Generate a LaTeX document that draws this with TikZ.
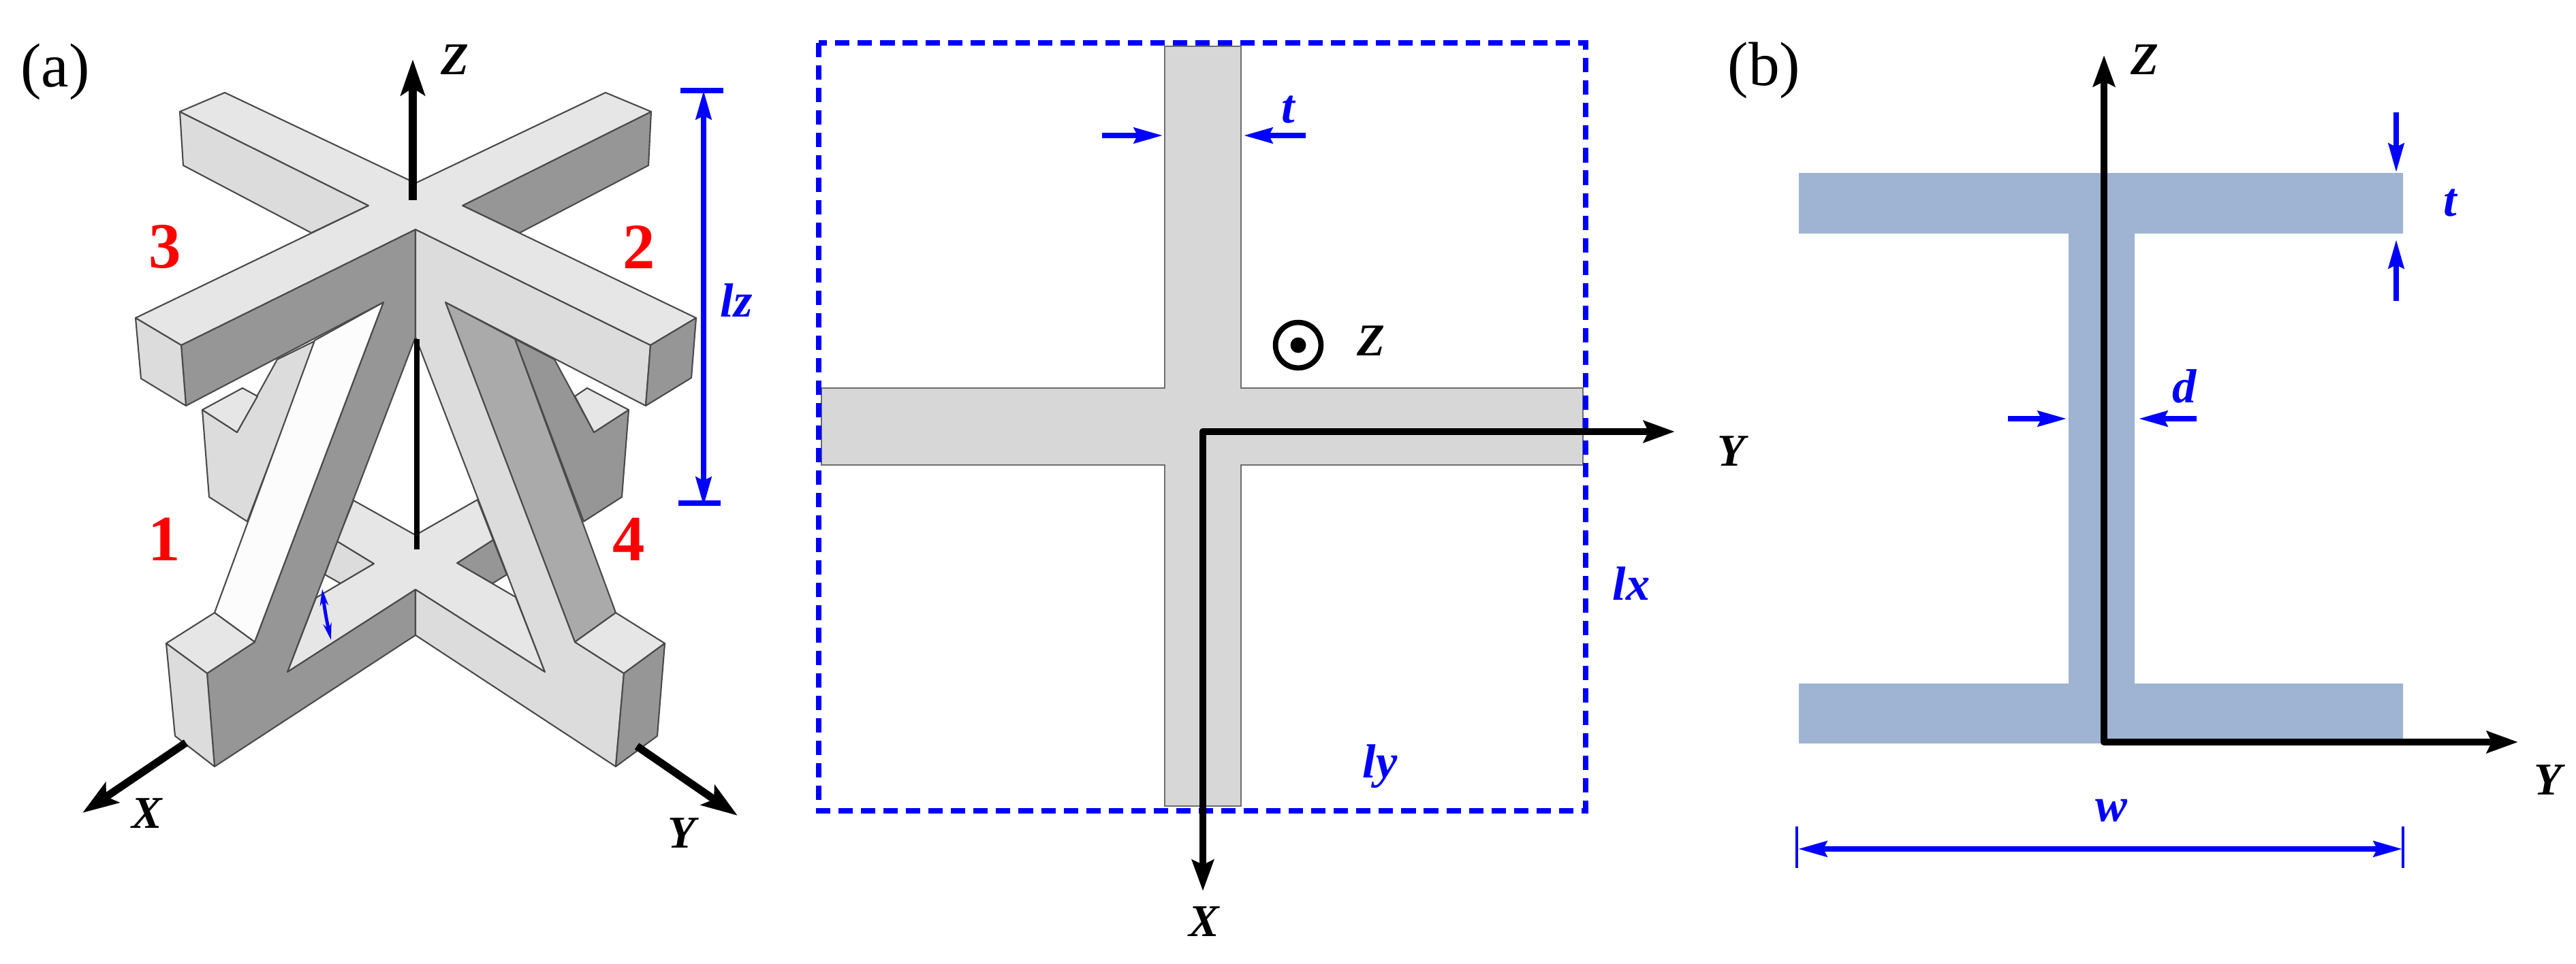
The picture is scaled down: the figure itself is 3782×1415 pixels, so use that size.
\documentclass[tikz,border=0pt]{standalone}
\usepackage{fontspec}
\setmainfont{Liberation Serif}
\usetikzlibrary{arrows.meta}
\definecolor{edgec}{HTML}{4A4A4A}
\definecolor{topc}{HTML}{E6E6E6}
\definecolor{lightc}{HTML}{DCDCDC}
\definecolor{darkc}{HTML}{969696}
\definecolor{midc}{HTML}{AAAAAA}
\definecolor{whitec}{HTML}{FCFCFC}
\definecolor{crossc}{HTML}{D7D7D7}
\definecolor{beamc}{HTML}{9FB3D2}
\definecolor{dimc}{HTML}{0000FF}
\definecolor{numc}{HTML}{FF0000}
\tikzset{
  x=0.01cm,y=-0.01cm,
  face/.style={draw=edgec,line width=0.6pt,line join=round},
  fT/.style={face,fill=topc},
  fL/.style={face,fill=lightc},
  fD/.style={face,fill=darkc},
  fM/.style={face,fill=midc},
  fW/.style={face,fill=whitec},
  axisbig/.style={line width=3.2pt,-{Stealth[length=15pt,width=10pt,inset=3pt]},black},
  axismid/.style={line width=2.8pt,-{Stealth[length=13pt,width=9pt,inset=2pt]},black},
  axisthin/.style={line width=2.5pt,black},
  dimline/.style={line width=2.1pt,dimc},
  dimarrow/.style={dimline,-{Stealth[length=12pt,width=6.5pt,inset=1.5pt]}},
  dimboth/.style={dimline,{Stealth[length=12pt,width=6.5pt,inset=1.5pt]}-{Stealth[length=12pt,width=6.5pt,inset=1.5pt]}},
  axlabel/.style={font=\fontsize{19}{19}\selectfont\bfseries\itshape,inner sep=0pt,black},
  dimlabel/.style={font=\fontsize{20}{20}\selectfont\bfseries\itshape,inner sep=0pt,dimc},
  numlabel/.style={font=\fontsize{27}{27}\selectfont\bfseries,inner sep=0pt,numc},
  panel/.style={font=\fontsize{26}{26}\selectfont,inner sep=0pt,black}
}
\begin{document}
\begin{tikzpicture}
\useasboundingbox (0,0) rectangle (3782,1415);
% ---------- panel (a): 3D unit
% back struts
\draw[fL] (297,602)--(348,635)--(407,528)--(464,500)--(363,766)--(307,730)--cycle;
\draw[fT] (297,602)--(356,570)--(378,582)--(348,635)--cycle;
\draw[fD] (756,498)--(814,528)--(872,635)--(923,602)--(913,730)--(857,766)--cycle;
\draw[fT] (872,635)--(923,602)--(862,570)--(844,582)--cycle;
% lower cross, seen through the openings
\draw[fL] (495,795)--(549,828)--(500,857)--(477,844)--cycle;
\draw[fD] (671,827)--(724,793)--(744,844)--(723,857)--cycle;
\draw[fT] (610,786)--(519,735)--(495,795)--(549,828)--(464,878)--(422,987)--(610,866)--(800,987)--(757,877)--(671,827)--(724,793)--(701,734)--cycle;
% front struts
\draw[fW] (462,500)--(563,444)--(374,943)--(315,900)--cycle;
\draw[fM] (654,444)--(756,498)--(904,900)--(844,943)--cycle;
\draw[fD] (266,507)--(610,337)--(610,495)--(422,987)--(610,866)--(610,933)--(315,1126)--(304,989)--(374,943)--(563,444)--(273,596)--cycle;
\draw[fL] (610,337)--(955,507)--(948,596)--(654,444)--(844,943)--(916,989)--(904,1126)--(610,933)--(610,866)--(800,987)--(610,495)--cycle;
% feet
\draw[fT] (244,945)--(315,900)--(374,943)--(304,989)--cycle;
\draw[fL] (244,945)--(304,989)--(315,1126)--(257,1081)--cycle;
\draw[fT] (976,945)--(904,900)--(844,943)--(916,989)--cycle;
\draw[fD] (976,945)--(916,989)--(904,1126)--(965,1081)--cycle;
% upper cross
\draw[fL] (264,164)--(541,302)--(457,342)--(269,243)--cycle;
\draw[fD] (956,164)--(679,302)--(763,342)--(952,243)--cycle;
\draw[fT] (264,164)--(330,136)--(610,269)--(889,136)--(956,164)--(679,302)--(1022,467)--(955,507)--(610,337)--(266,507)--(199,467)--(541,302)--cycle;
\draw[fL] (199,467)--(266,507)--(273,596)--(207,556)--cycle;
\draw[fD] (1022,467)--(955,507)--(948,596)--(1015,555)--cycle;
% axes of (a)
\coordinate (azs) at (606,294); \coordinate (aze) at (606,87);
\coordinate (ams) at (612,498); \coordinate (ame) at (612,807);
\coordinate (axs) at (273,1091); \coordinate (axe) at (121,1194);
\coordinate (ays) at (935,1096); \coordinate (aye) at (1083,1198);
\draw[axisbig] (azs)--(aze);
\draw[axisthin] (ams)--(ame);
\draw[axisbig] (axs)--(axe);
\draw[axisbig] (ays)--(aye);
% lz
\coordinate (lzt) at (1033,133); \coordinate (lzb) at (1033,743);
\coordinate (lztl) at (999,133); \coordinate (lztr) at (1062,133);
\coordinate (lzbl) at (996,739); \coordinate (lzbr) at (1058,739);
\draw[dimboth] (lzt)--(lzb);
\draw[dimline] (lztl)--(lztr);
\draw[dimline] (lzbl)--(lzbr);
\coordinate (anga) at (473,865); \coordinate (angb) at (486,940);
\draw[dimline,line width=1.4pt,{Stealth[length=7pt,width=3.5pt]}-{Stealth[length=7pt,width=3.5pt]}] (anga) to[bend right=3] (angb);
\node[panel] (la) at (81,106) {(a)};
\node[axlabel] (az) at (668,88) {Z};
\node[axlabel] (ax) at (216,1195) {X};
\node[axlabel] (ay) at (1001,1224) {Y};
\node[numlabel] (n3) at (242,363) {3};
\node[numlabel] (n2) at (938,363) {2};
\node[numlabel] (n1) at (241,792) {1};
\node[numlabel] (n4) at (923,792) {4};
\node[dimlabel] (llz) at (1081,441) {lz};
% ---------- middle panel
\draw[draw=edgec!80!white,fill=crossc,line width=0.7pt]
 (1710,68)--(1822,68)--(1822,570)--(2324,570)--(2324,683)--(1822,683)--(1822,1184)--(1710,1184)--(1710,683)--(1206,683)--(1206,570)--(1710,570)--cycle;
\draw[dimc,line width=2.4pt,dash pattern=on 6pt off 3.4pt] (1202,63) rectangle (2328,1191);
\coordinate (mo) at (1766,634);
\coordinate (my) at (2459,634);
\coordinate (mx) at (1766,1309);
\draw[axismid,line cap=round] (mo)--(my);
\draw[axismid,line cap=round] (mo)--(mx);
\coordinate (mtas) at (1618,199); \coordinate (mtae) at (1707,199);
\coordinate (mtbs) at (1917,199); \coordinate (mtbe) at (1826,199);
\draw[dimarrow] (mtas)--(mtae);
\draw[dimarrow] (mtbs)--(mtbe);
\node[draw=black,line width=2.2pt,circle,minimum size=19pt,inner sep=0pt] (zcirc) at (1906,507) {};
\node[fill=black,circle,minimum size=6.5pt,inner sep=0pt] (zdot) at (1906,507) {};
\node[dimlabel] (mt) at (1891,161) {t};
\node[axlabel] (mz) at (2013,501) {Z};
\node[dimlabel] (mlx) at (2395,857) {lx};
\node[dimlabel] (mly) at (2026,1126) {ly};
\node[axlabel] (mxl) at (1768,1354) {X};
\node[axlabel] (myl) at (2542,663) {Y};
% ---------- panel (b)
\fill[beamc] (2641,254)--(3528,254)--(3528,343)--(3134,343)--(3134,1004)--(3528,1004)--(3528,1092)--(2641,1092)--(2641,1004)--(3037,1004)--(3037,343)--(2641,343)--cycle;
\coordinate (bo) at (3089,1090);
\coordinate (bz) at (3089,81);
\coordinate (by) at (3697,1090);
\draw[axismid,line cap=round] (bo)--(bz);
\draw[axismid,line cap=round] (bo)--(by);
\coordinate (btas) at (3518,165); \coordinate (btae) at (3518,253);
\coordinate (btbs) at (3518,442); \coordinate (btbe) at (3518,352);
\draw[dimarrow] (btas)--(btae);
\draw[dimarrow] (btbs)--(btbe);
\coordinate (bdas) at (2948,615); \coordinate (bdae) at (3034,615);
\coordinate (bdbs) at (3225,615); \coordinate (bdbe) at (3140,615);
\draw[dimarrow] (bdas)--(bdae);
\draw[dimarrow] (bdbs)--(bdbe);
\coordinate (bwl) at (2640,1247); \coordinate (bwr) at (3527,1247);
\coordinate (bwlt) at (2638,1214); \coordinate (bwlb) at (2638,1275);
\coordinate (bwrt) at (3528,1214); \coordinate (bwrb) at (3528,1275);
\draw[dimboth] (bwl)--(bwr);
\draw[dimline,line width=1.3pt] (bwlt)--(bwlb);
\draw[dimline,line width=1.3pt] (bwrt)--(bwrb);
\node[panel] (lb) at (2590,104) {(b)};
\node[axlabel] (bzl) at (3149,88) {Z};
\node[axlabel] (byl) at (3741,1146) {Y};
\node[dimlabel] (bt) at (3597,298) {t};
\node[dimlabel] (bd) at (3207,567) {d};
\node[dimlabel] (bw) at (3100,1191) {w};
\end{tikzpicture}
\end{document}
